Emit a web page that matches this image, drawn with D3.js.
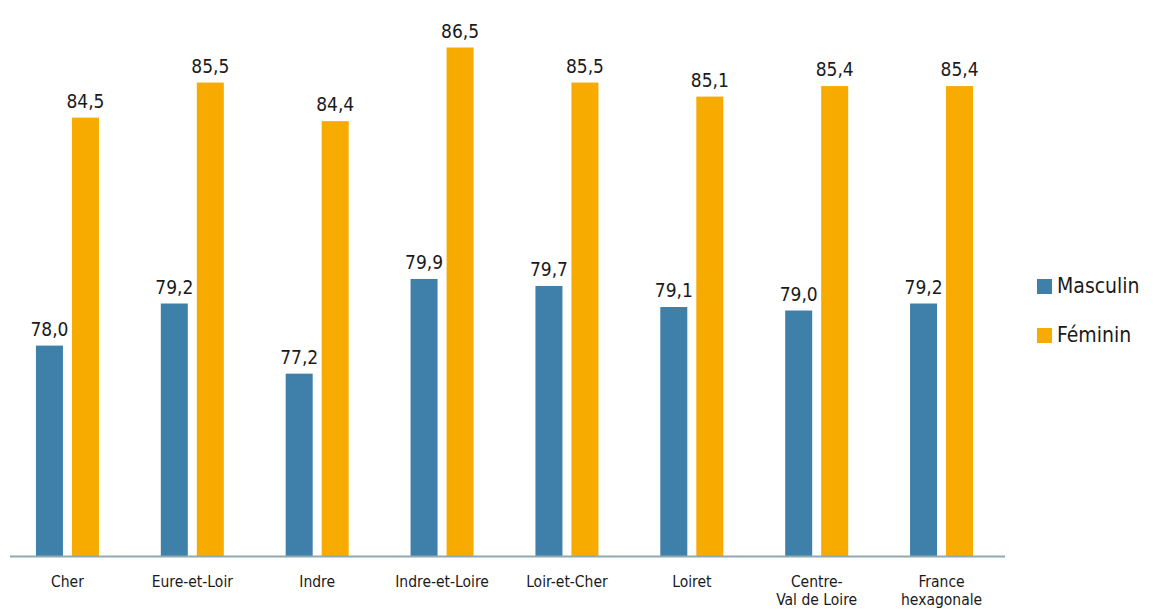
<!DOCTYPE html>
<html>
<head>
<meta charset="utf-8">
<script src="https://cdn.jsdelivr.net/npm/d3@7"></script>
<style>
  body { margin: 0; background: #fff; }
  svg { display: block; font-family: "Liberation Sans Narrow", "DejaVu Sans Condensed", "Roboto", sans-serif; }
</style>
</head>
<body>
<div id="chart"></div>
<script>
const categories = ["Cher", "Eure-et-Loir", "Indre", "Indre-et-Loire", "Loir-et-Cher", "Loiret", "Centre-\nVal de Loire", "France\nhexagonale"];
const masculin = [78.0, 79.2, 77.2, 79.9, 79.7, 79.1, 79.0, 79.2];
const feminin = [84.5, 85.5, 84.4, 86.5, 85.5, 85.1, 85.4, 85.4];
const seriesNames = ["Masculin", "Féminin"];

const WIDTH = 1154;
const HEIGHT = 610;
const BASELINE_Y = 556;
const BLUE = "#3f80ab";
const ORANGE = "#f7aa00";
const AXIS_COLOR = "#8fa9b1";

const series = [
  { name: seriesNames[0], values: masculin, color: BLUE },
  { name: seriesNames[1], values: feminin, color: ORANGE },
];

const fmt = (v) => v.toFixed(1).replace(".", ",");

const svg = d3
  .select("#chart")
  .append("svg")
  .attr("width", WIDTH)
  .attr("height", HEIGHT)
  .attr("viewBox", [0, 0, WIDTH, HEIGHT]);

const x = d3.scaleBand().domain(categories).range([5, 1004]).padding(0);
const xInner = d3
  .scaleBand()
  .domain(seriesNames)
  .range([-31.5, 31.5])
  .paddingInner(0.25)
  .paddingOuter(0);

const y = d3.scaleLinear().domain([72, 86.5]).range([BASELINE_Y, 47.5]);

const groups = svg
  .append("g")
  .selectAll("g")
  .data(categories)
  .join("g")
  .attr("transform", (d) => `translate(${x(d) + x.bandwidth() / 2},0)`);

series.forEach((s) => {
  groups
    .append("rect")
    .attr("x", xInner(s.name))
    .attr("width", xInner.bandwidth())
    .attr("y", (d, i) => y(s.values[i]))
    .attr("height", (d, i) => BASELINE_Y - y(s.values[i]))
    .attr("fill", s.color);

  groups
    .append("text")
    .attr("x", xInner(s.name) + xInner.bandwidth() / 2)
    .attr("y", (d, i) => y(s.values[i]) - 10)
    .attr("text-anchor", "middle")
    .attr("font-size", 19)
    .attr("fill", "#1a1a1a")
    .text((d, i) => fmt(s.values[i]));
});

// baseline
svg
  .append("line")
  .attr("x1", 10)
  .attr("x2", 1005)
  .attr("y1", BASELINE_Y + 0.5)
  .attr("y2", BASELINE_Y + 0.5)
  .attr("stroke", AXIS_COLOR)
  .attr("stroke-width", 2);

// category labels
groups.each(function (d) {
  const lines = d.split("\n");
  const t = d3
    .select(this)
    .append("text")
    .attr("text-anchor", "middle")
    .attr("font-size", 15.5)
    .attr("fill", "#1a1a1a");
  lines.forEach((line, i) => {
    t.append("tspan")
      .attr("x", 0)
      .attr("y", 587 + i * 18)
      .text(line);
  });
});

// legend
const legend = svg
  .append("g")
  .selectAll("g")
  .data(series)
  .join("g")
  .attr("transform", (d, i) => `translate(1037,${279 + i * 49})`);

legend
  .append("rect")
  .attr("width", 15)
  .attr("height", 15)
  .attr("fill", (d) => d.color);

legend
  .append("text")
  .attr("x", 20)
  .attr("y", 14)
  .attr("font-size", 21)
  .attr("fill", "#1a1a1a")
  .text((d) => d.name);
</script>
</body>
</html>
